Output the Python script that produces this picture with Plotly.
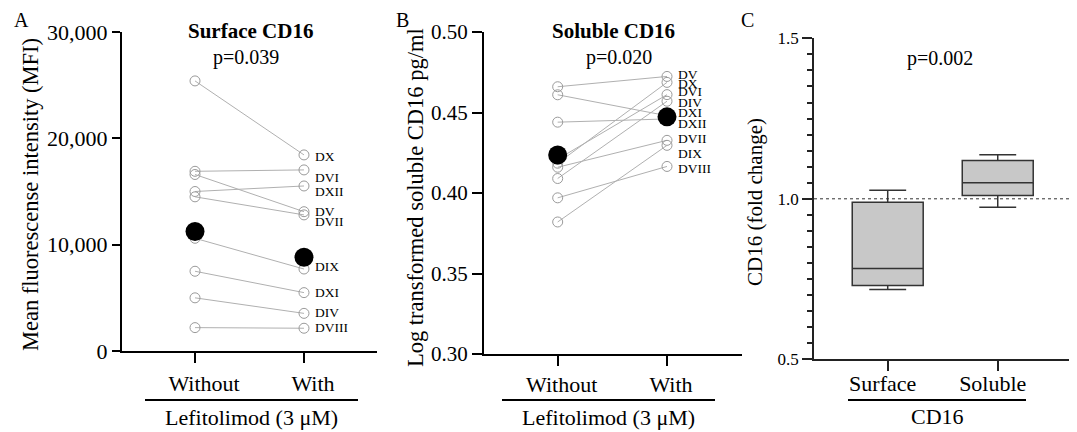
import plotly.graph_objects as go

# ---------------- data ----------------
conditions = ["Without", "With"]

donors_A = ["DX", "DVI", "DXII", "DV", "DVII", "DIX", "DXI", "DIV", "DVIII"]
surface_without = [25400, 16900, 15000, 16600, 14500, 10600, 7500, 5000, 2200]
surface_with = [18440, 17030, 15520, 13100, 12800, 7710, 5490, 3540, 2140]
surface_mean = [11230, 8810]

donors_B = ["DV", "DX", "DVI", "DIV", "DXI", "DXII", "DVII", "DIX", "DVIII"]
soluble_without = [0.466, 0.4185, 0.421, 0.409, 0.461, 0.444, 0.416, 0.382, 0.397]
soluble_with = [0.4724, 0.4687, 0.4611, 0.457, 0.448, 0.446, 0.4327, 0.4296, 0.4165]
soluble_mean = [0.4236, 0.4473]

box_groups = ["Surface", "Soluble"]
box_q1 = [0.730, 1.010]
box_median = [0.783, 1.050]
box_q3 = [0.989, 1.119]
box_low = [0.7175, 0.974]
box_high = [1.027, 1.137]

p_texts = ["p=0.039", "p=0.020", "p=0.002"]

# ---------------- styling ----------------
FONT = "Liberation Serif"
OFF = 8                      # page body margin
W, H = 1077 - OFF, 432 - OFF
nudge_A = [-2, -8, -6, 0, -7, 3, 0, 1, 1]
nudge_B = [2, -1, 3, -1, 3, -5, 2, -8, -2]
GREY_LINE = "#b0b0b0"
GREY_MARK = "#9a9a9a"


def px(x):
    return (x - OFF) / W


def py(y):
    return 1 - (y - OFF) / H


fig = go.Figure()

for wo, wi in zip(surface_without, surface_with):
    fig.add_trace(go.Scatter(x=conditions, y=[wo, wi], mode="lines+markers",
                             line=dict(color=GREY_LINE, width=1),
                             marker=dict(symbol="circle-open", size=10, color=GREY_MARK,
                                         line=dict(width=1)),
                             xaxis="x", yaxis="y", showlegend=False, hoverinfo="skip"))
fig.add_trace(go.Scatter(x=conditions, y=surface_mean, mode="markers",
                         marker=dict(size=19, color="black"),
                         xaxis="x", yaxis="y", showlegend=False))

for wo, wi in zip(soluble_without, soluble_with):
    fig.add_trace(go.Scatter(x=conditions, y=[wo, wi], mode="lines+markers",
                             line=dict(color=GREY_LINE, width=1),
                             marker=dict(symbol="circle-open", size=10, color=GREY_MARK,
                                         line=dict(width=1)),
                             xaxis="x2", yaxis="y2", showlegend=False, hoverinfo="skip"))
fig.add_trace(go.Scatter(x=conditions, y=soluble_mean, mode="markers",
                         marker=dict(size=19, color="black"),
                         xaxis="x2", yaxis="y2", showlegend=False))

fig.add_trace(go.Box(x=box_groups, q1=box_q1, median=box_median, q3=box_q3,
                     lowerfence=box_low, upperfence=box_high,
                     width=0.645, whiskerwidth=0.52,
                     fillcolor="#c8c8c8", line=dict(color="#333333", width=1.5),
                     xaxis="x3", yaxis="y3", showlegend=False, boxpoints=False))

annotations = []
for name, v, n in zip(donors_A, surface_with, nudge_A):
    annotations.append(dict(x="With", y=v, xref="x", yref="y", text=name, showarrow=False,
                            xanchor="left", xshift=9, yshift=n,
                            font=dict(family=FONT, size=13.5, color="black")))
for name, v, n in zip(donors_B, soluble_with, nudge_B):
    annotations.append(dict(x="With", y=v, xref="x2", yref="y2", text=name, showarrow=False,
                            xanchor="left", xshift=9, yshift=n,
                            font=dict(family=FONT, size=13.5, color="black")))


def txt(x, y, t, size, bold=False, angle=0):
    if bold:
        t = "<b>" + t + "</b>"
    annotations.append(dict(x=px(x), y=py(y), xref="paper", yref="paper", text=t,
                            showarrow=False, xanchor="center", yanchor="middle",
                            textangle=angle,
                            font=dict(family=FONT, size=size, color="black")))


txt(21, 20, "A", 20)
txt(402.5, 20, "B", 20)
txt(747, 20, "C", 20)
txt(250, 31, "Surface CD16", 21, bold=True)
txt(613, 31, "Soluble CD16", 21, bold=True)
txt(245.5, 57, p_texts[0], 20)
txt(618.5, 57, p_texts[1], 20)
txt(939.7, 58, p_texts[2], 20)
txt(30, 195, "Mean fluorescense intensity (MFI)", 22.5, angle=-90)
txt(415, 198, "Log transformed soluble CD16 pg/ml", 22.5, angle=-90)
txt(755, 202, "CD16 (fold change)", 21, angle=-90)
txt(251.7, 417, "Lefitolimod (3 μM)", 22)
txt(608.7, 417, "Lefitolimod (3 μM)", 22)
txt(937, 416, "CD16", 22)

shapes = []
for x0, x1 in [(145, 358), (502, 715), (848, 1026)]:
    shapes.append(dict(type="line", xref="paper", yref="paper", x0=px(x0), x1=px(x1),
                       y0=py(400), y1=py(400), opacity=1,
                       line=dict(color="black", width=1.8)))
shapes.append(dict(type="line", xref="x3 domain", yref="y3", x0=0, x1=1, y0=1.0, y1=1.0,
                   opacity=1, line=dict(color="#333333", width=1, dash="dot"), layer="below"))

xcat = dict(showline=True, linecolor="black", linewidth=2, ticks="outside", ticklen=10,
            tickwidth=2, tickcolor="black", showgrid=False, zeroline=False,
            tickfont=dict(family=FONT, size=22, color="black"), type="category",
            automargin=False)

fig.update_layout(
    template="simple_white",
    width=W, height=H, margin=dict(l=0, r=0, t=0, b=0, pad=0, autoexpand=False),
    autosize=False,
    paper_bgcolor="white", plot_bgcolor="white", showlegend=False,
    xaxis=dict(xcat, domain=[px(122), px(377)], range=[-0.670, 1.670], anchor="y",
               ticklabelshift=9, ticklabelstandoff=2),
    yaxis=dict(domain=[py(351), py(32)], range=[0, 30000], tickvals=[0, 10000, 20000, 30000],
               tickformat=",d", showline=True, linecolor="black", linewidth=2,
               ticks="outside", ticklen=8, tickwidth=2, tickcolor="black",
               showgrid=False, zeroline=False,
               tickfont=dict(family=FONT, size=22, color="black"), anchor="x",
               automargin=False),
    xaxis2=dict(xcat, domain=[px(484), px(742)], range=[-0.674, 1.686], anchor="y2",
                ticklabelshift=4, ticklabelstandoff=0),
    yaxis2=dict(domain=[py(354), py(32)], range=[0.30, 0.50], dtick=0.05, tick0=0.30,
                tickformat=".2f", showline=True, linecolor="black", linewidth=2,
                ticks="outside", ticklen=10, tickwidth=2, tickcolor="black",
                showgrid=False, zeroline=False,
                tickfont=dict(family=FONT, size=21, color="black"), anchor="x2",
                automargin=False),
    xaxis3=dict(xcat, domain=[px(814), px(1072)], range=[-0.670, 1.675], anchor="y3",
                linewidth=1.5, tickwidth=1.5, linecolor="#222222", tickcolor="#222222",
                ticklabelshift=-5, ticklabelstandoff=-6),
    yaxis3=dict(domain=[py(359.3), py(38.3)], range=[0.5, 1.5], dtick=0.5, tick0=0.5,
                tickformat=".1f", showline=True, linecolor="#222222", linewidth=1.5,
                ticks="outside", ticklen=10, tickwidth=1.5, tickcolor="#222222",
                minor=dict(dtick=0.05, ticks="outside", ticklen=5, tickwidth=1.5,
                           tickcolor="#222222", showgrid=False),
                showgrid=False, zeroline=False,
                tickfont=dict(family=FONT, size=17, color="black"), anchor="x3",
                automargin=False),
    annotations=annotations, shapes=shapes,
)

fig.write_html("out.html", config={"responsive": False, "displayModeBar": False})
